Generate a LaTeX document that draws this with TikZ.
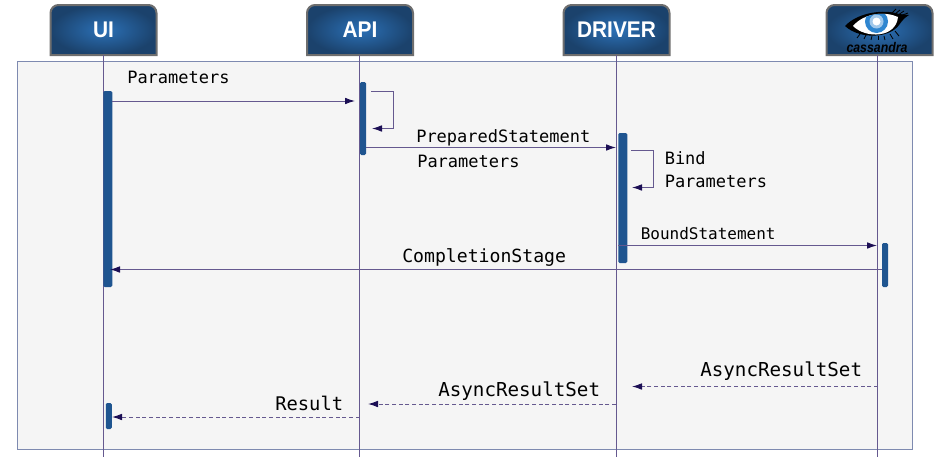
\documentclass[tikz,border=0pt]{standalone}
\usepackage{fontspec}
\setmainfont{Liberation Sans}
\setmonofont{DejaVu Sans Mono}
\usetikzlibrary{arrows.meta,shadings}
\definecolor{headin}{HTML}{2B70B6}
\definecolor{headout}{HTML}{1B426C}
\definecolor{headline}{HTML}{6E6E6E}
\definecolor{framefill}{HTML}{F5F5F5}
\definecolor{frameline}{HTML}{7E8AB0}
\definecolor{lifeline}{HTML}{65598F}
\definecolor{barfill}{HTML}{1F5590}
\definecolor{tipcol}{HTML}{1C0F55}
\definecolor{iriscol}{HTML}{2F86D0}
\tikzset{
  headbox/.style={draw=headline,line width=1.5pt,inner color=headin,outer color=headout},
  headtext/.style={text=white,font=\fontsize{17}{17}\selectfont\bfseries,inner sep=0pt,xscale=0.92},
  bar/.style={fill=barfill,draw=none,rounded corners=1pt,minimum width=#1,inner sep=0pt},
  msg/.style={lifeline,line width=0.75pt,-{Latex[color=tipcol,length=7.5pt,width=5pt]}},
  reply/.style={msg,dash pattern=on 3pt off 2pt},
  life/.style={lifeline,line width=0.75pt},
  lbl/.style={font=\ttfamily\fontsize{#1}{#1}\selectfont,inner sep=0pt,anchor=base west}
}
\begin{document}
\begin{tikzpicture}[x=0.75pt,y=-0.75pt]
\useasboundingbox (0,0) rectangle (950,457);
\draw [frameline,fill=framefill,line width=0.55pt] (17,61) rectangle (912,449);

% header boxes
\foreach \hx/\hy in {50.5/156.5,307/413,563.5/669.5,826.5/932.5}
  \draw [headbox] (\hx,55) [rounded corners=6pt] -- (\hx,5) -- (\hy,5) [sharp corners] -- (\hy,55) -- cycle;
\node [headtext] (ui) at (103.5,30) {UI};
\node [headtext] (api) at (360,30) {API};
\node [headtext] (driver) at (616.5,30) {DRIVER};
\node [inner sep=0pt,xscale=0.88,font=\fontsize{10.5}{10.5}\selectfont\bfseries\itshape,text=black] (cass) at (877,47) {cassandra};

% cassandra eye
\fill [black] (845,26) .. controls (858,12) and (885,9) .. (899,14) -- (909,15) .. controls (904,18) and (902,21) .. (899,25) .. controls (890,38) and (860,40) .. (845,26) -- cycle;
\foreach \lx/\ly/\ex/\ey in {892/13/896/9,895/14/900/10,898/15/904/11,900/16/908/13,
    860/34/857/38,866/35/864/39,872/36/871/40,878/36/878/40,884/36/885/40,890/34/893/39,895/31/899/36}
  \draw [black,line width=0.6pt] (\lx,\ly) -- (\ex,\ey);
\begin{scope}
  \clip (853,26) .. controls (864,13) and (885,11) .. (898,17) .. controls (896,38) and (866,39) .. (853,26) -- cycle;
  \fill [white] (840,5) rectangle (910,45);
  \fill [iriscol] (876.5,21.5) circle [radius=11.5];
  \fill [white!55!iriscol] (876.5,21.5) circle [radius=7];
  \fill [white] (876.5,21.5) circle [radius=4];
\end{scope}

% lifelines
\coordinate (uiEnd) at (103.5,457);
\coordinate (apiEnd) at (359.5,457);
\coordinate (driverEnd) at (616,457);
\coordinate (cassEnd) at (877.5,457);
\draw [life] (103.5,55) -- (uiEnd);
\draw [life] (359.5,55) -- (apiEnd);
\draw [life] (616,55) -- (driverEnd);
\draw [life] (877.5,55) -- (cassEnd);

% activation bars
\node [bar=6.75pt,minimum height=147pt] (uiBar) at (107.75,189) {};
\node [bar=4.5pt,minimum height=54.75pt] (apiBar) at (363,118.5) {};
\node [bar=6.75pt,minimum height=97.5pt] (driverBar) at (622.75,198) {};
\node [bar=4.5pt,minimum height=33pt] (cassBar) at (885,265) {};
\node [bar=4.5pt,minimum height=19.5pt] (uiBarB) at (108.75,416) {};

% messages
\coordinate (a1) at (355,101);
\coordinate (a2) at (112,101);
\coordinate (b1) at (371,91);
\coordinate (b2) at (393.5,91);
\coordinate (b3) at (393.5,128.5);
\coordinate (b4) at (372,128.5);
\coordinate (c1) at (366,147.5);
\coordinate (c2) at (616,147.5);
\coordinate (d1) at (631,150);
\coordinate (d2) at (653,150);
\coordinate (d3) at (653,187.5);
\coordinate (d4) at (632,187.5);
\coordinate (e1) at (618,245.5);
\coordinate (e2) at (877,245.5);
\coordinate (f1) at (882,269.5);
\coordinate (f2) at (110,269.5);
\coordinate (g1) at (878,386.5);
\coordinate (g2) at (632,386.5);
\coordinate (h1) at (616,404);
\coordinate (h2) at (368,404);
\coordinate (i1) at (359.5,417);
\coordinate (i2) at (112,417);
\draw [msg] (a2) -- (a1);
\draw [msg] (b1) -- (b2) -- (b3) -- (b4);
\draw [msg] (c1) -- (c2);
\draw [msg] (d1) -- (d2) -- (d3) -- (d4);
\draw [msg] (e1) -- (e2);
\draw [msg] (f1) -- (f2);
\draw [reply] (g1) -- (g2);
\draw [reply] (h1) -- (h2);
\draw [reply] (i1) -- (i2);

% labels
\node [lbl=12.75] (lParam) at (127,83) {Parameters};
\node [lbl=12.75] (lPrep) at (416,142) {PreparedStatement};
\node [lbl=12.75] (lParamB) at (417,167) {Parameters};
\node [lbl=12.75] (lBind) at (664.5,164) {Bind};
\node [lbl=12.75] (lBindB) at (664.5,187) {Parameters};
\node [lbl=12] (lBound) at (640.5,239) {BoundStatement};
\node [lbl=13.6] (lComp) at (402,262) {CompletionStage};
\node [lbl=14.4] (lAsync) at (700,376) {AsyncResultSet};
\node [lbl=14.4] (lAsyncB) at (438,396) {AsyncResultSet};
\node [lbl=14.1] (lRes) at (275,410) {Result};
\end{tikzpicture}
\end{document}
